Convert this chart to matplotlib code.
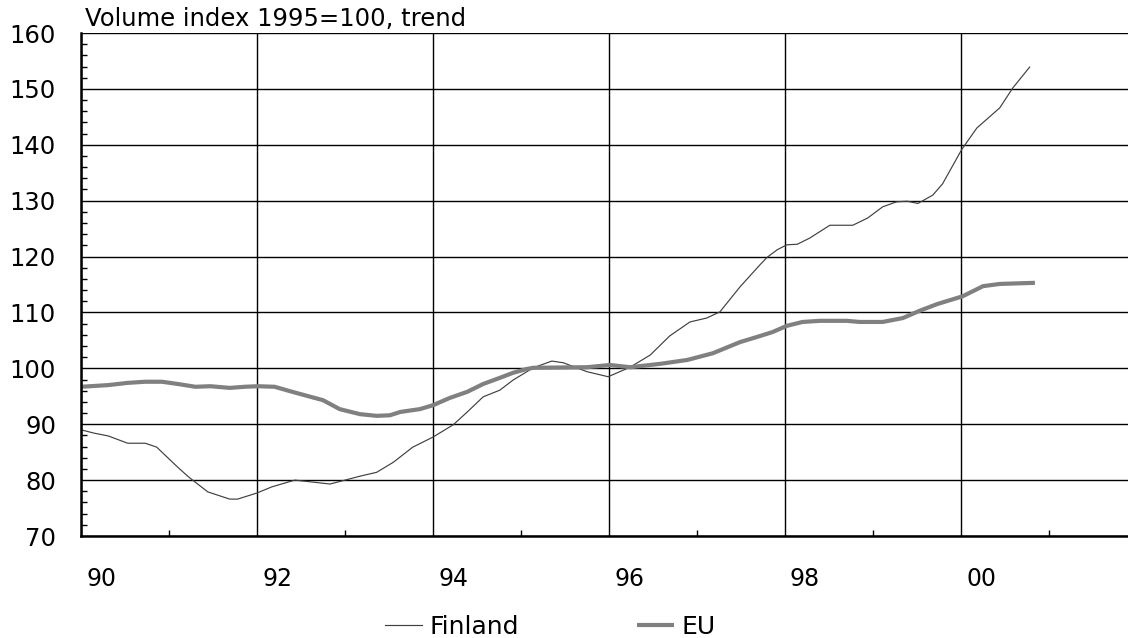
import matplotlib
matplotlib.use("Agg")
import matplotlib.pyplot as plt
import matplotlib.transforms as mtransforms
from matplotlib.ticker import MultipleLocator

# Volume index 1995=100, trend
fin_years = [1990.0, 1990.15, 1990.31, 1990.53, 1990.73, 1990.86, 1991.10, 1991.22,
             1991.44, 1991.69, 1991.78, 1992.0, 1992.17, 1992.43, 1992.83, 1993.17,
             1993.36, 1993.55, 1993.77, 1994.0, 1994.23, 1994.39, 1994.57, 1994.76,
             1994.91, 1995.14, 1995.35, 1995.48, 1995.75, 1995.99, 1996.24, 1996.47,
             1996.69, 1996.92, 1997.11, 1997.26, 1997.49, 1997.72, 1997.80, 1997.91,
             1998.02, 1998.14, 1998.28, 1998.51, 1998.77, 1998.94, 1999.11, 1999.27,
             1999.39, 1999.51, 1999.68, 1999.79, 2000.01, 2000.18, 2000.44, 2000.59,
             2000.78]
finland = [89.0, 88.4, 87.9, 86.6, 86.6, 85.9, 82.3, 80.6,
           77.9, 76.6, 76.6, 77.7, 78.8, 80.0, 79.3, 80.7,
           81.4, 83.2, 85.9, 87.7, 89.9, 92.2, 94.9, 96.1,
           97.9, 100.1, 101.3, 101.0, 99.4, 98.5, 100.2, 102.4,
           105.8, 108.3, 109.0, 110.1, 114.6, 118.6, 119.9, 121.2,
           122.1, 122.2, 123.3, 125.6, 125.6, 126.9, 128.9, 129.8,
           129.9, 129.5, 131.0, 133.0, 139.2, 143.0, 146.6, 150.2,
           153.9]

eu_years = [1990.0, 1990.31, 1990.53, 1990.73, 1990.92, 1991.10, 1991.30, 1991.47,
            1991.69, 1991.86, 1992.01, 1992.2, 1992.4, 1992.75, 1992.94, 1993.17,
            1993.36, 1993.51, 1993.63, 1993.85, 1994.0, 1994.19, 1994.39, 1994.57,
            1994.76, 1994.91, 1995.07, 1995.14, 1995.75, 1996.01, 1996.24, 1996.58,
            1996.89, 1997.18, 1997.49, 1997.72, 1997.86, 1998.02, 1998.2, 1998.4,
            1998.7, 1998.85, 1999.11, 1999.34, 1999.53, 1999.73, 2000.02, 2000.25,
            2000.44, 2000.84]
eu = [96.7, 97.0, 97.4, 97.6, 97.6, 97.2, 96.7, 96.8,
      96.5, 96.7, 96.8, 96.7, 95.8, 94.3, 92.7, 91.8,
      91.5, 91.6, 92.2, 92.7, 93.4, 94.7, 95.8, 97.2,
      98.3, 99.2, 99.9, 100.1, 100.2, 100.6, 100.2, 100.8,
      101.5, 102.7, 104.7, 105.8, 106.5, 107.6, 108.3, 108.5,
      108.5, 108.3, 108.3, 109.0, 110.3, 111.5, 112.9, 114.7,
      115.1, 115.3]

x_ticks = [1990, 1992, 1994, 1996, 1998, 2000]
x_labels = ["90", "92", "94", "96", "98", "00"]
y_ticks = [70, 80, 90, 100, 110, 120, 130, 140, 150, 160]

plt.rcParams['font.family'] = ['DejaVu Sans']

W, H = 1128, 638
fig = plt.figure(figsize=(W / 100, H / 100), dpi=100)
ax = fig.add_axes([81 / W, 1 - 536 / H, 1 - 81 / W, 503 / H])

ax.plot(fin_years, finland, color='#404040', lw=0.85, label='Finland')
ax.plot(eu_years, eu, color='#808080', lw=3.0, label='EU', solid_capstyle='butt')

ax.set_xlim(1990, 1990 + (W - 81) / 88)
ax.set_ylim(70, 160)

ax.set_xticks(x_ticks)
ax.set_xticklabels(x_labels)
ax.set_xticks([1991, 1993, 1995, 1997, 1999, 2001], minor=True)
ax.set_yticks(y_ticks)
ax.yaxis.set_minor_locator(MultipleLocator(2))

ax.tick_params(axis='x', which='major', length=0, pad=22, labelsize=17)
ax.tick_params(axis='y', which='major', length=0, pad=18, labelsize=17.5)
ax.tick_params(axis='x', which='minor', direction='in', length=4, width=1)
ax.tick_params(axis='y', which='minor', direction='in', length=4.5, width=1)

# shift year labels a bit to the right like the original
offset = mtransforms.ScaledTranslation(0.2, 0, fig.dpi_scale_trans)
for lbl in ax.get_xticklabels():
    lbl.set_transform(lbl.get_transform() + offset)

ax.grid(True, which='major', color='black', lw=1)
ax.set_axisbelow(True)
for s in ['top', 'right']:
    ax.spines[s].set_visible(False)
ax.spines['left'].set_linewidth(1.8)
ax.spines['bottom'].set_linewidth(1.8)

fig.text(85 / W, 1 - 19 / H, "Volume index 1995=100, trend", fontsize=17.5, va='center', ha='left')

fig.legend(loc='center', bbox_to_anchor=(0.488, 1 - 627 / H), ncol=2, frameon=False,
           fontsize=18, handlelength=1.5, handletextpad=0.3, columnspacing=4.7)

fig.savefig("out.png", dpi=100)
